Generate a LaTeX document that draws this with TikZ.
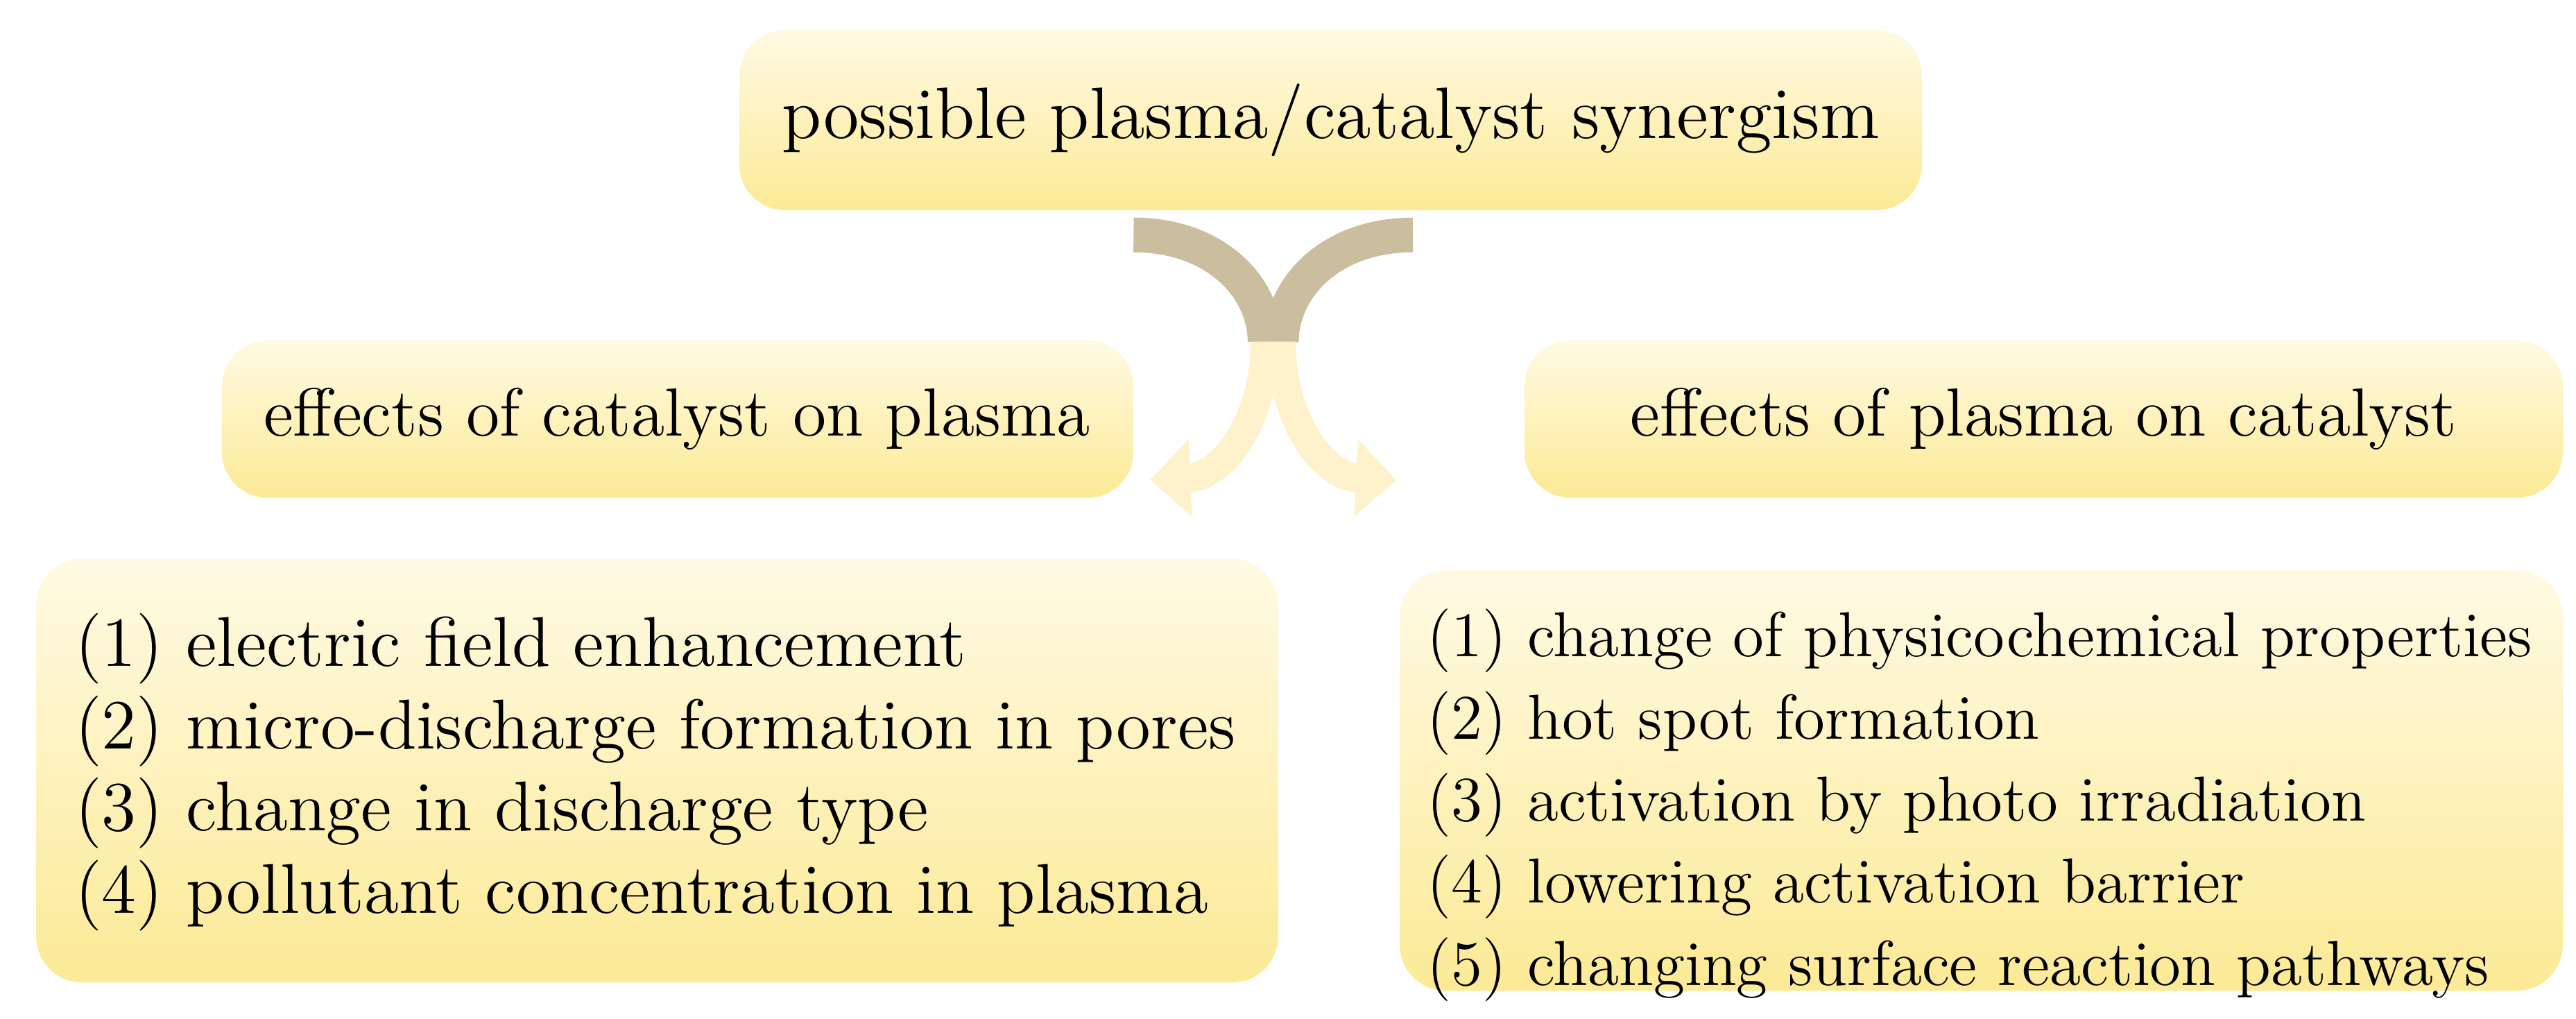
\documentclass[tikz,border=0pt]{standalone}
\usetikzlibrary{arrows.meta}
\definecolor{boxlight}{RGB}{255,250,228}
\definecolor{boxdark}{RGB}{252,234,150}
\definecolor{tan}{RGB}{202,190,158}
\definecolor{paleyel}{RGB}{254,242,205}
\begin{document}
\begin{tikzpicture}[x=0.01cm,y=-0.01cm,
  box/.style={rounded corners=8pt,top color=boxlight,bottom color=boxdark,draw=none},
  txt/.style={font=\fontsize{11.8}{15}\selectfont,inner sep=0pt},
  lst/.style={font=\fontsize{12.2}{15}\selectfont,inner sep=0pt,anchor=west},
  rlst/.style={font=\fontsize{11.0}{14}\selectfont,inner sep=0pt,anchor=west}]
\useasboundingbox (0,0) rectangle (1568,620);
\shade[box] (450,18) rectangle (1170,128);
\node[txt,font=\fontsize{12.6}{15}\selectfont] (top) at (810,73) {possible plasma/catalyst synergism};
\shade[box] (135,207) rectangle (690,303);
\node[txt] (ml) at (412,255) {effects of catalyst on plasma};
\shade[box] (928,207) rectangle (1560,303);
\node[txt] (mr) at (1244,255) {effects of plasma on catalyst};
\shade[box] (22,340) rectangle (778,598);
\shade[box] (852,347) rectangle (1560,603);
\node[lst] (l1) at (45,395) {(1) electric field enhancement};
\node[lst] (l2) at (45,445) {(2) micro-discharge formation in pores};
\node[lst] (l3) at (45,495) {(3) change in discharge type};
\node[lst] (l4) at (45,545) {(4) pollutant concentration in plasma};
\node[rlst] (r1) at (868,390) {(1) change of physicochemical properties};
\node[rlst] (r2) at (868,440) {(2) hot spot formation};
\node[rlst] (r3) at (868,490) {(3) activation by photo irradiation};
\node[rlst] (r4) at (868,540) {(4) lowering activation barrier};
\node[rlst] (r5) at (868,590) {(5) changing surface reaction pathways};
\coordinate (a0) at (690,143);
\coordinate (a1) at (770,208);
\coordinate (a2) at (700,292);
\coordinate (b0) at (860,143);
\coordinate (b1) at (780,208);
\coordinate (b2) at (850,292);
\draw[tan,line width=6pt] (a0) .. controls (740,143) and (770,175) .. (a1);
\draw[tan,line width=6pt] (b0) .. controls (810,143) and (780,175) .. (b1);
\draw[paleyel,line width=5pt,-{Triangle[width=13pt,length=7pt]}] (a1) .. controls (770,255) and (745,290) .. (a2);
\draw[paleyel,line width=5pt,-{Triangle[width=13pt,length=7pt]}] (b1) .. controls (780,255) and (805,290) .. (b2);
\end{tikzpicture}
\end{document}
